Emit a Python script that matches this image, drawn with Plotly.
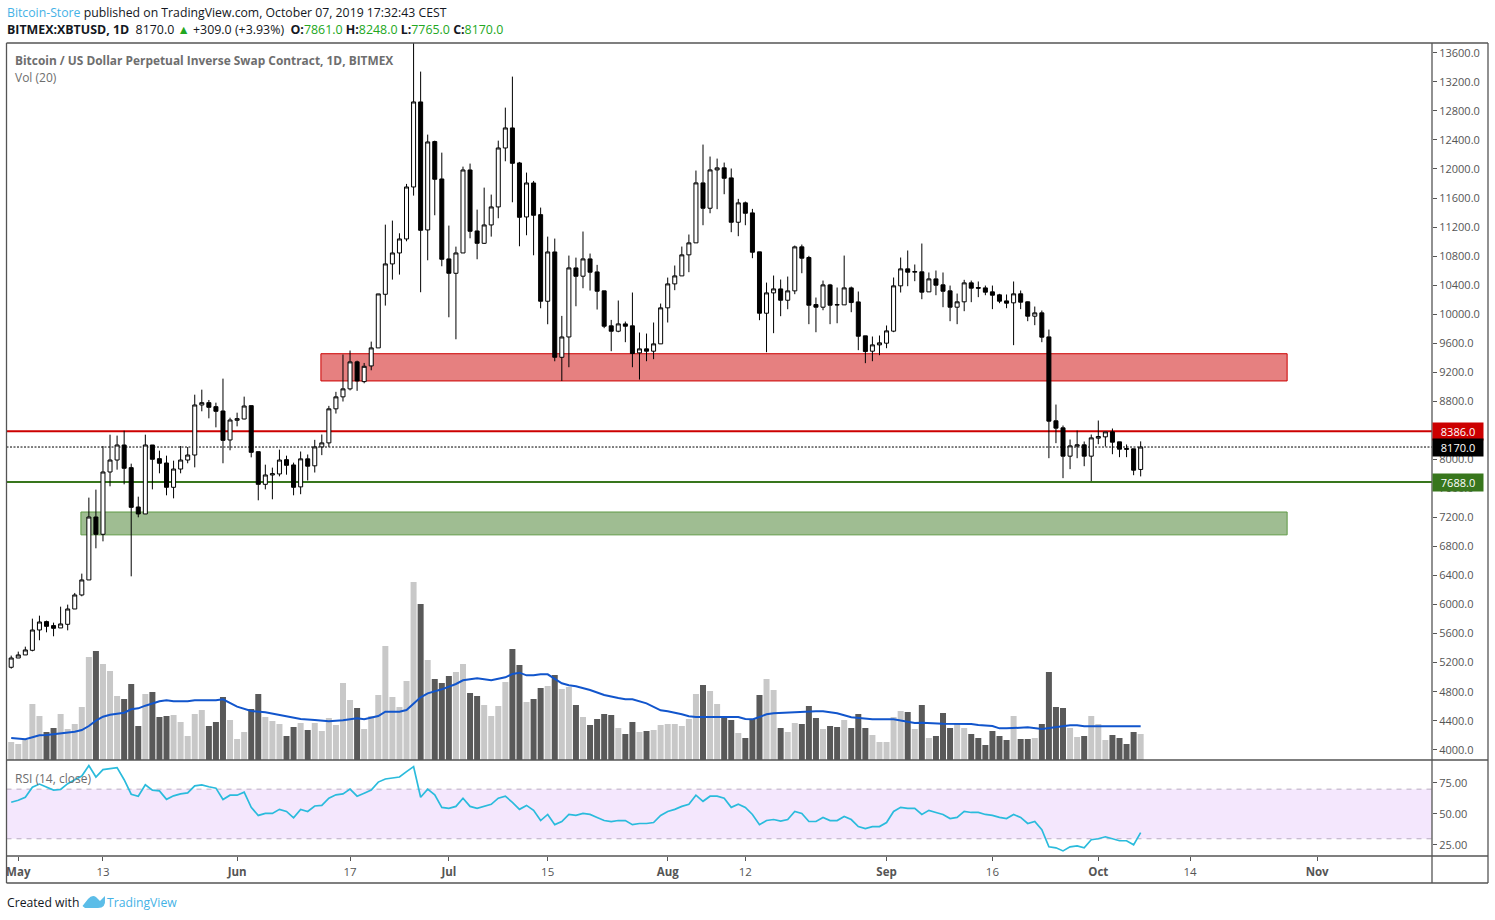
import pandas as pd
import plotly.graph_objects as go

opens = [5136,5264,5306,5370,5650,5765,5710,5678,5728,5939,6132,6339,7206,6968,7826,7991,8198,7886,7344,7248,
8198,8010,7950,7615,7867,7991,8060,8749,8781,8726,8666,8267,8538,8556,8740,8106,7656,7785,7799,7996,
7923,7621,8007,7911,8172,8227,8696,8861,8971,9343,9071,9287,9535,10274,10692,10843,11036,11752,12923,11160,
12377,11862,10761,10563,10843,11986,11146,10976,11229,11477,12289,12565,12083,11339,11807,11371,10178,10857,9406,9686,
10637,10523,10761,10582,10321,9839,9765,9866,9839,9467,9522,9490,9591,10087,10417,10527,10817,10982,11808,11459,
11987,12015,11877,11266,11533,11395,10858,10013,10293,10348,10192,10321,10927,10780,10132,10096,10403,10132,10128,10362,
10169,9701,9490,9577,9600,9766,10390,10624,10578,10583,10307,10486,10404,10321,10096,10170,10431,10367,10362,10307,
10266,10183,10156,10280,10170,9972,10018,9687,8531,8434,8044,8182,8200,8044,8292,8310,8379,8241,8149,8145,7861]
highs = [5297,5352,5420,5806,5847,5779,5751,5971,5999,6160,6426,7473,7583,8184,8340,8327,8395,7941,7486,8340,
8198,8120,8051,7982,8184,8170,8891,8960,8818,8781,9112,8574,8643,8864,8740,8106,7927,7886,8134,8051,
7955,8108,8067,8269,8342,8737,8930,9444,9499,9360,9328,9622,10279,11233,11289,11114,11794,13850,13341,12473,
12390,12225,11220,10930,12032,12074,11440,11743,11647,12390,12845,13272,12097,11950,11835,11468,11068,11041,9976,10807,
10779,11138,10835,10679,10321,9921,10188,9898,10298,9747,9733,9885,10146,10504,10670,10931,11097,11978,12336,12171,
12143,12088,12006,11588,11551,11450,10858,10435,10532,10477,10518,10945,10959,10803,10229,10463,10417,10367,10807,10380,
10312,9701,9692,9706,9844,10505,10780,10877,10684,10973,10574,10601,10574,10394,10284,10473,10463,10450,10394,10394,
10280,10271,10450,10326,10174,10105,10050,9788,8755,8466,8273,8397,8246,8342,8535,8379,8425,8241,8205,8145,8248]
lows = [5117,5264,5306,5356,5508,5618,5563,5678,5645,5939,6114,6339,6775,6871,7629,7858,7656,6389,7202,7248,
7587,7808,7505,7463,7808,7946,7890,8662,8565,8441,7946,8125,8455,8552,8028,7436,7587,7450,7766,7789,
7505,7520,7709,7819,8058,8172,8631,8797,8950,8944,9048,9227,9535,10118,10476,10545,11004,11633,10302,10742,
11362,10660,9957,9654,10843,11045,10756,10967,11068,11321,12106,11541,10935,11087,10811,10081,9861,9351,9080,9269,
10109,10357,10325,10064,9807,9490,9751,9614,9269,9099,9352,9380,9591,9885,10330,10527,10578,10982,11225,11390,
11446,11652,11129,11074,11225,10771,9917,9476,9738,9972,10068,10275,10564,9862,9751,10054,9862,9875,10128,10027,
9504,9325,9352,9435,9531,9752,10298,10385,10454,10206,10307,10261,10096,9903,9862,10041,10165,10234,10261,10069,
10151,10082,9573,10069,9903,9848,9614,8016,8223,7741,7865,8016,7906,7700,8209,8177,8071,8030,8030,7782,7765]
closes = [5264,5306,5375,5650,5760,5700,5673,5733,5939,6132,6339,7206,6968,7826,7991,8198,7877,7339,7248,8198,
8001,7946,7615,7867,7991,8060,8749,8781,8717,8662,8262,8542,8561,8735,8097,7656,7785,7803,7991,7918,
7615,8007,7906,8172,8227,8696,8861,8971,9343,9080,9282,9535,10279,10692,10843,11036,11752,12923,11155,12372,
11858,10756,10563,10843,11986,11142,10976,11229,11477,12289,12565,12078,11334,11807,11362,10178,10857,9406,9686,10637,
10522,10761,10578,10316,9834,9765,9866,9834,9458,9522,9490,9591,10087,10417,10527,10817,10982,11808,11459,11987,
12015,11872,11266,11533,11390,10853,10013,10293,10348,10192,10321,10927,10771,10123,10096,10403,10123,10128,10362,10160,
9696,9485,9577,9605,9770,10390,10624,10578,10587,10303,10486,10399,10316,10096,10170,10431,10358,10358,10303,10261,
10179,10151,10280,10165,9972,10018,9683,8526,8430,8044,8186,8200,8044,8296,8315,8379,8237,8140,8140,7851,8170]
volumes = [54,48,60,168,132,84,96,138,93,108,159,309,327,288,267,192,183,228,102,198,
204,129,132,135,114,72,138,150,102,114,189,120,63,84,153,198,129,117,108,72,
99,111,90,111,87,126,105,231,180,156,93,132,195,342,189,159,237,534,468,300,
243,231,252,264,288,201,192,165,132,162,234,333,285,174,183,216,222,255,213,219,
165,129,105,123,138,135,96,78,114,84,87,90,105,108,108,102,123,198,225,207,
168,129,120,81,66,123,195,243,210,96,84,111,108,162,126,93,102,99,120,96,
138,96,75,54,54,129,147,144,93,165,66,72,141,96,108,96,78,66,45,87,
72,60,132,63,63,66,108,264,159,156,96,69,72,132,108,60,75,66,48,84,78]
rsi = [59.4,61.0,63.5,71.6,74.1,71.4,69.2,69.7,74.4,77.6,80.6,89.0,79.8,85.8,86.6,87.4,77.6,65.9,64.3,73.5,
69.2,68.6,61.8,64.6,66.2,67.0,72.7,73.5,71.9,70.8,61.6,65.1,65.1,67.6,55.3,48.8,50.4,50.4,53.7,52.0,
46.9,53.7,52.0,56.4,56.9,62.7,65.4,66.2,70.0,64.3,66.7,69.2,75.7,78.2,79.0,79.8,84.1,88.2,63.5,70.0,
65.4,55.3,54.5,56.1,62.7,56.1,54.5,56.1,57.8,62.7,64.3,59.4,53.7,56.9,52.9,44.7,49.6,41.4,43.9,49.6,
48.8,50.4,49.6,47.2,44.7,43.9,44.7,44.7,41.4,42.3,42.3,43.1,48.8,52.0,53.7,56.1,57.8,65.1,60.2,64.3,
64.3,62.7,55.3,57.8,55.3,49.6,41.4,44.7,45.5,44.2,45.5,52.0,50.4,43.9,43.9,47.2,44.7,44.7,48.0,45.5,
39.8,38.2,39.8,39.8,43.1,52.0,55.3,54.5,54.5,49.6,52.9,51.2,49.6,46.3,47.2,52.0,51.2,51.2,49.6,48.8,
47.2,46.3,49.6,47.2,42.3,43.9,37.4,23.5,22.7,20.2,23.5,24.3,22.7,29.2,30.0,31.6,30.0,28.4,28.4,25.1,34.9]
ma_days = [1,2,3,4,5,6,8,10,11,12,13,14,15,17,18,19,20,21,22,23,24,26,27,30,31,33,35,37,39,41,42,44,46,48,50,51,52,53,54,55,56,57,58,59,60,62,64,65,67,69,71,72,73,74,75,76,77,78,79,80,81,83,85,87,88,89,91,93,94,96,97,98,103,104,105,106,107,108,109,112,115,116,118,120,122,123,126,128,129,130,133,137,138,140,141,142,145,147,148,149,151,152,153,161]
ma_values = [66,63,62,68,74,75,79,85,90,102,118,130,136,142,152,155,163,170,176,179,176,176,179,179,182,160,147,143,135,128,123,120,116,119,125,122,126,132,145,146,145,150,170,188,200,212,228,239,245,239,248,258,262,254,254,257,257,244,230,224,221,210,195,186,182,182,170,149,146,137,131,129,129,129,123,122,129,137,140,144,146,146,140,128,123,122,122,114,111,112,109,108,105,102,95,95,98,93,96,100,104,104,101,101]

price_ticks = list(range(4000, 13601, 400))
rsi_ticks = [25, 50, 75]
date_ticks = ["2019-05-01","2019-05-13","2019-06-01","2019-06-17","2019-07-01","2019-07-15","2019-08-01","2019-08-12","2019-09-01","2019-09-16","2019-10-01","2019-10-14","2019-11-01"]
date_labels = ["<b>May</b>","13","<b>Jun</b>","17","<b>Jul</b>","15","<b>Aug</b>","12","<b>Sep</b>","16","<b>Oct</b>","14","<b>Nov</b>"]

W, H = 1495, 920
FONT = "Open Sans"
AX = "#555555"
dates = pd.date_range("2019-04-30", periods=len(closes), freq="D")
px = lambda v: v / W
py = lambda v: 1 - v / H

vol_colors = ["#c8c8c8" if c >= o else "#595959" for o, c in zip(opens, closes)]

fig = go.Figure()
fig.add_trace(go.Bar(x=dates, y=volumes, marker=dict(color=vol_colors, line=dict(width=0)),
                     width=86400000 * 0.85, yaxis="y2", hoverinfo="skip"))
fig.add_trace(go.Scatter(x=[dates[d - 1] for d in ma_days], y=ma_values, mode="lines",
                         line=dict(color="#1155cc", width=2), yaxis="y2", hoverinfo="skip"))
fig.add_trace(go.Candlestick(x=dates, open=opens, high=highs, low=lows, close=closes, yaxis="y",
                             whiskerwidth=0,
                             increasing=dict(fillcolor="#ffffff", line=dict(color="#000000", width=1)),
                             decreasing=dict(fillcolor="#000000", line=dict(color="#000000", width=1)),
                             hoverinfo="skip"))
fig.add_trace(go.Scatter(x=dates, y=rsi, mode="lines", line=dict(color="#2abbdc", width=1.7),
                         yaxis="y3", hoverinfo="skip"))

def hline(y, color, width, dash="solid", yref="y"):
    return dict(type="line", xref="x domain", x0=0, x1=1, yref=yref, y0=y, y1=y, layer="below",
                line=dict(color=color, width=width, dash=dash))

def zone(x0, x1, y0, y1, fill, edge):
    return dict(type="rect", xref="x", yref="y", x0=x0, x1=x1, y0=y0, y1=y1, layer="below",
                fillcolor=fill, line=dict(color=edge, width=1))

def frame(x0, y0, x1, y1):
    return dict(type="line", xref="paper", yref="paper", x0=px(x0), x1=px(x1), y0=py(y0), y1=py(y1),
                layer="above", line=dict(color=AX, width=1.3))

logo = "M 82.5 906 L 88 899 Q 92 894.5 96 897 L 100 901 L 105 896 L 105 899 Q 106 908 98 908 L 85 908 Z"
def logo_path():
    toks = logo.split()
    out, i = [], 0
    while i < len(toks):
        t = toks[i]
        if t in "MLQZ":
            out.append(t); i += 1
        else:
            out.append(f"{px(float(toks[i])):.5f},{py(float(toks[i+1])):.5f}"); i += 2
    return " ".join(out)

shapes = [
    zone("2019-06-12 21:00", "2019-10-27 18:00", 9080, 9455, "#e68080", "#cc0000"),
    zone("2019-05-09 21:00", "2019-10-27 18:00", 6960, 7275, "#9fbd92", "#5f9a45"),
    hline(8386, "#cc0000", 2),
    hline(7688, "#38761d", 2),
    hline(8170, "#000000", 1, "2px,1.5px"),
    dict(type="rect", xref="x domain", x0=0, x1=1, yref="y3", y0=30, y1=70, layer="below",
         fillcolor="#f4e7fd", line=dict(width=0)),
    hline(70, "#b9abc2", 1, "5px,5px", "y3"),
    hline(30, "#b9abc2", 1, "5px,5px", "y3"),
    frame(6.5, 43, 1488, 43), frame(6.5, 883, 1488, 883), frame(6.5, 43, 6.5, 883),
    frame(1488, 43, 1488, 883), frame(1432, 43, 1432, 883),
    frame(6.5, 760, 1488, 760), frame(6.5, 856, 1488, 856),
    dict(type="path", xref="paper", yref="paper", path=logo_path(), fillcolor="#5cbde8", line=dict(width=0)),
]

def note(x, y, text, size=12, color="#131722", anchor="left"):
    return dict(xref="paper", yref="paper", x=px(x), y=py(y), text=text, showarrow=False, xanchor=anchor,
                yanchor="middle", align="left", font=dict(family=FONT, size=size, color=color))

def price_tag(value, bg):
    return dict(xref="paper", yref="y", x=px(1432), y=value, text=f"{value:.1f}", showarrow=False,
                xanchor="left", yanchor="middle", bgcolor=bg, width=50, height=17, borderpad=0, align="center",
                font=dict(family=FONT, size=11, color="#ffffff"))

G = "#22a722"
NB = "\u00a0"
header1 = '<span style="color:#45b2e6">Bitcoin-Store</span> published on TradingView.com, October 07, 2019 17:32:43 CEST'
header2 = (f'<b>BITMEX:XBTUSD, 1D</b>{NB}{NB}{closes[-1]:.1f}{NB}<span style="color:{G}">▲</span>{NB}+309.0{NB}(+3.93%){NB}{NB}'
           f'<b>O:</b><span style="color:{G}">{opens[-1]:.1f}</span>{NB}<b>H:</b><span style="color:{G}">{highs[-1]:.1f}</span>{NB}'
           f'<b>L:</b><span style="color:{G}">{lows[-1]:.1f}</span>{NB}<b>C:</b><span style="color:{G}">{closes[-1]:.1f}</span>')
annotations = [
    note(5, 13, header1, 12.25), note(5, 29.5, header2, 12.4),
    note(13, 60, "<b>Bitcoin / US Dollar Perpetual Inverse Swap Contract, 1D, BITMEX</b>", 11.9, "#6e6e6e"),
    note(13, 77.5, "Vol (20)", 12, "#6e6e6e"),
    note(13, 778, "RSI (14, close)", 12, "#6e6e6e"),
    note(5, 902, "Created with", 12.2, "#131722"),
    note(105, 902, "TradingView", 12.2, "#45b2e6"),
    price_tag(8386, "#cc0000"), price_tag(8170, "#000000"), price_tag(7688, "#38761d"),
]

tick_style = dict(side="right", ticks="outside", ticklen=4, tickwidth=1, tickcolor=AX, showgrid=False,
                  zeroline=False, showline=False, tickfont=dict(family=FONT, size=11, color=AX), fixedrange=True)

fig.update_layout(
    width=W, height=H, margin=dict(l=0, r=0, t=0, b=0), paper_bgcolor="#ffffff", plot_bgcolor="#ffffff",
    showlegend=False, barmode="overlay", hovermode=False, boxgap=0.19,
    xaxis=dict(domain=[px(6.5), px(1432)], range=["2019-04-29 08:00", "2019-11-17 06:30"], anchor="y3",
               tickvals=date_ticks, ticktext=date_labels, ticks="outside", ticklen=4, tickcolor=AX,
               showgrid=False, showline=False, zeroline=False, rangeslider=dict(visible=False),
               ticklabelstandoff=1,
               tickfont=dict(family=FONT, size=11.5, color=AX), fixedrange=True),
    yaxis=dict(domain=[py(760), py(43)], range=[3859, 13735], anchor="x", overlaying="y2",
               tickvals=price_ticks, ticktext=[f"{t:.1f}" for t in price_ticks], **tick_style),
    yaxis2=dict(domain=[py(760), py(43)], range=[0, 2151], anchor="x", visible=False, fixedrange=True),
    yaxis3=dict(domain=[py(856), py(760)], range=[16.1, 93.5], anchor="x",
                tickvals=rsi_ticks, ticktext=[f"{t:.2f}" for t in rsi_ticks], **tick_style),
    shapes=shapes, annotations=annotations,
)

fig.write_html("out.html", config=dict(displayModeBar=False),
               post_script="document.body.style.margin='0';document.body.style.overflow='hidden';")
